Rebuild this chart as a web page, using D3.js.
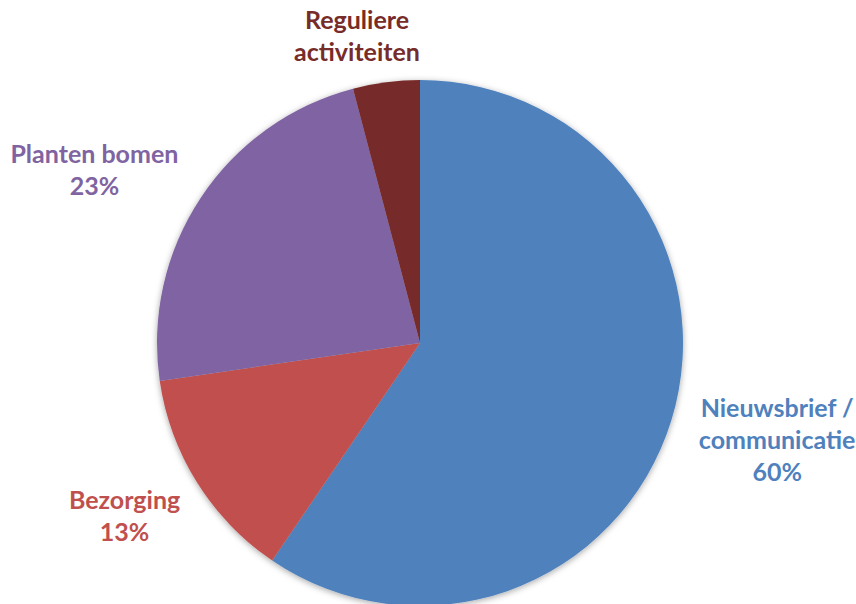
<!DOCTYPE html>
<html>
<head>
<meta charset="utf-8">
<script src="https://cdn.jsdelivr.net/npm/d3@7"></script>
<style>
  html, body { margin: 0; padding: 0; background: #fff; overflow: hidden; }
  text { font-family: Lato, "Open Sans", sans-serif; font-weight: bold; }
</style>
</head>
<body>
<script>
// data (slice angles), labels show rounded percents
var categories = ["Nieuwsbrief / communicatie", "Bezorging", "Planten bomen", "Reguliere activiteiten"];
var labelLines = [["Nieuwsbrief /", "communicatie"], ["Bezorging"], ["Planten bomen"], ["Reguliere", "activiteiten"]];
var values = [59.5, 13.2, 23.2, 4.1];
var showPercent = [true, true, true, false];
var colors = ["#4F81BD", "#C0504D", "#8064A2", "#772C2A"];

var width = 856, height = 604;
var cx = 420, cy = 343, r = 263;
var lineH = 32;
// nudges of the label block from the arc point (Excel's own placement)
var nudge = [[15, -31], [8, -24], [-27, 17], [-17, 41]];

var svg = d3.select("body").append("svg")
    .attr("width", width)
    .attr("height", height);

var defs = svg.append("defs");
defs.append("filter")
    .attr("id", "shadow")
    .attr("x", "-10%").attr("y", "-10%")
    .attr("width", "120%").attr("height", "120%")
    .append("feDropShadow")
    .attr("dx", 0).attr("dy", 1.5)
    .attr("stdDeviation", 3)
    .attr("flood-color", "#000")
    .attr("flood-opacity", 0.35);

var pie = d3.pie().sort(null).value((d) => d);
var arcs = pie(values);
var arc = d3.arc().innerRadius(0).outerRadius(r);
var labelArc = d3.arc().innerRadius(r + 95).outerRadius(r + 95);

var g = svg.append("g").attr("transform", `translate(${cx},${cy})`);

g.append("g")
    .attr("filter", "url(#shadow)")
    .selectAll("path")
    .data(arcs)
    .join("path")
    .attr("d", arc)
    .attr("fill", (d, i) => colors[i]);

var total = d3.sum(values);
var labels = g.selectAll("text.label")
    .data(arcs)
    .join("text")
    .attr("class", "label")
    .attr("text-anchor", "middle")
    .attr("font-size", 25)
    .attr("fill", (d, i) => colors[i])
    .attr("transform", function (d, i) {
        let p = labelArc.centroid(d);
        return `translate(${p[0] + nudge[i][0]},${p[1] + nudge[i][1]})`;
    });

labels.each(function (d, i) {
    let lines = labelLines[i].slice();
    if (showPercent[i]) lines.push(Math.round(d.value * 100 / total) + "%");
    d3.select(this).selectAll("tspan")
        .data(lines)
        .join("tspan")
        .attr("x", 0)
        .attr("y", (t, j) => j * lineH)
        .text((t) => t);
});
</script>
</body>
</html>
